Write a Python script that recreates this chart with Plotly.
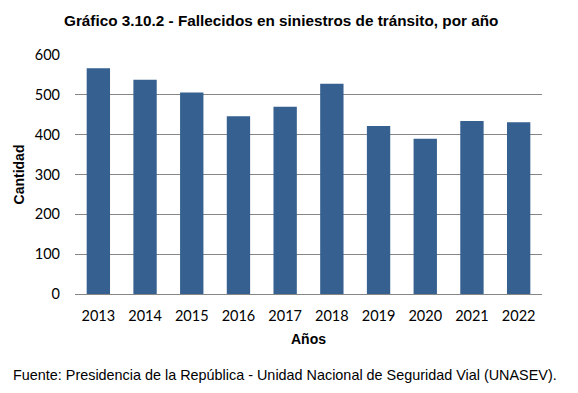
import plotly.graph_objects as go

years = ["2013", "2014", "2015", "2016", "2017", "2018", "2019", "2020", "2021", "2022"]
deaths = [567, 538, 506, 446, 470, 528, 422, 390, 434, 431]
y_ticks = [0, 100, 200, 300, 400, 500, 600]

fig = go.Figure(go.Bar(x=years, y=deaths, marker=dict(color="#36608F", line=dict(width=0))))

# page body has an 8px default margin, so the figure is placed 8px right/down
fig.update_layout(
    width=578, height=393,
    margin=dict(l=67, r=44, t=47, b=107),
    plot_bgcolor="white", paper_bgcolor="white",
    bargap=0.5,
    showlegend=False,
    font=dict(family="Lato", size=14, color="#000000"),
)
fig.update_xaxes(
    type="category", automargin=False,
    showline=True, linecolor="#868686", linewidth=1,
    ticks="", tickfont=dict(family="Lato", size=14.5), ticklabelstandoff=9,
    title=dict(text="<b>Años</b>", font=dict(family="Liberation Sans, Arial", size=14), standoff=10),
)
fig.update_yaxes(
    range=[0, 600], tickvals=y_ticks, automargin=False,
    showgrid=True, gridcolor="#868686", gridwidth=1,
    zeroline=False, ticks="", ticklabelstandoff=14,
    tickfont=dict(family="Lato", size=14.5),
    title=dict(text="<b>Cantidad</b>", font=dict(family="Liberation Sans, Arial", size=14), standoff=6),
)
fig.add_annotation(
    text="<b>Gráfico 3.10.2 - Fallecidos en siniestros de tránsito, por año</b>",
    xref="paper", yref="paper", x=(281 - 75) / 467, y=1, yshift=35,
    showarrow=False, font=dict(family="Liberation Sans, Arial", size=15.3), xanchor="center", yanchor="middle",
)
fig.add_annotation(
    text="Fuente: Presidencia de la República - Unidad Nacional de Seguridad Vial (UNASEV).",
    xref="paper", yref="paper", x=(11 - 75) / 467, y=0, yshift=-81,
    showarrow=False, font=dict(family="Liberation Sans, Arial", size=14.4), xanchor="left", yanchor="middle",
)

fig.write_html("out.html")
